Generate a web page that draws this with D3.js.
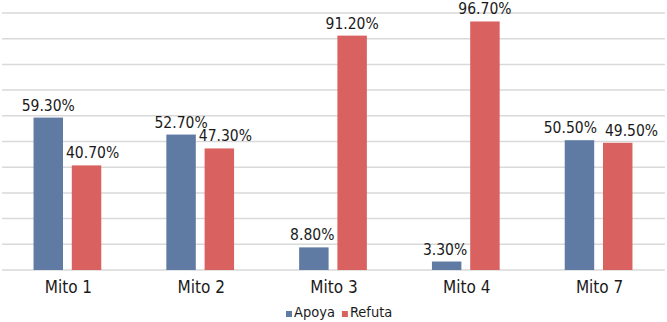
<!DOCTYPE html>
<html>
<head>
<meta charset="utf-8">
<script src="https://cdn.jsdelivr.net/npm/d3@7"></script>
<style>
  body { margin: 0; background: #fff; }
  text { font-family: "DejaVu Sans Condensed", "DejaVu Sans", Verdana, sans-serif; fill: #1a1a1a; }
</style>
</head>
<body>
<div id="chart"></div>
<script>
// data
const mitos = ["Mito 1", "Mito 2", "Mito 3", "Mito 4", "Mito 7"];
const series = ["Apoya", "Refuta"];
const apoya = [59.3, 52.7, 8.8, 3.3, 50.5];
const refuta = [40.7, 47.3, 91.2, 96.7, 49.5];
const colors = ["#5f7aa3", "#d9615f"];

const W = 667, H = 322;
const margin = {top: 13, right: 2, bottom: 52, left: 1};
const width = W - margin.left - margin.right,
    height = H - margin.top - margin.bottom;

const svg = d3.select("#chart")
  .append("svg")
    .attr("width", W)
    .attr("height", H)
  .append("g")
    .attr("transform", "translate(" + margin.left + "," + margin.top + ")");

const x = d3.scaleBand()
  .domain(mitos)
  .range([0, width])
  .paddingInner(0.49)
  .paddingOuter(0.245);

const xs = d3.scaleBand()
  .domain(series)
  .range([0, x.bandwidth()])
  .paddingInner(0.23);

const y = d3.scaleLinear()
  .domain([0, 100])
  .range([height, 0]);

// gridlines
svg.append("g")
  .selectAll("line")
  .data(y.ticks(10))
  .enter().append("line")
    .attr("x1", 1)
    .attr("x2", width)
    .attr("y1", d => y(d))
    .attr("y2", d => y(d))
    .attr("stroke", "#d9d9d9")
    .attr("stroke-width", 1.5);

const rows = [];
mitos.forEach((m, i) => {
  rows.push({mito: m, s: "Apoya", v: apoya[i], k: 0});
  rows.push({mito: m, s: "Refuta", v: refuta[i], k: 1});
});

svg.selectAll(".bar")
  .data(rows)
  .enter().append("rect")
    .attr("class", "bar")
    .attr("x", d => x(d.mito) + xs(d.s))
    .attr("y", d => y(d.v))
    .attr("width", xs.bandwidth())
    .attr("height", d => height - y(d.v))
    .attr("fill", d => colors[d.k]);

// value labels
const labels = svg.selectAll(".lbl")
  .data(rows)
  .enter().append("text")
    .attr("class", "lbl")
    .attr("text-anchor", "middle")
    .attr("x", d => x(d.mito) + xs(d.s) + xs.bandwidth() / 2)
    .attr("y", d => y(d.v) - 7)
    .style("font-size", "15.5px")
    .text(d => d.v.toFixed(2) + "%");

// nudge labels sideways so they don't sit on the neighbour bar or each other
labels.each(function(d) { d.w = this.getComputedTextLength(); d.cx = x(d.mito) + xs(d.s) + xs.bandwidth() / 2; d.by = y(d.v) - 7; });
mitos.forEach(m => {
  const pair = rows.filter(r => r.mito == m);
  const a = pair[0], b = pair[1];
  const aRight = x(m) + xs("Apoya") + xs.bandwidth();
  const bLeft = x(m) + xs("Refuta");
  if (Math.abs(a.by - b.by) < 12) {
    const overlap = (a.cx + a.w / 2) - (b.cx - b.w / 2) + 8;
    if (overlap > 0) { a.cx -= overlap * 0.4; b.cx += overlap * 0.6; }
  } else if (b.by > a.by && b.cx - b.w / 2 < aRight + 2) {
    b.cx = aRight + 3 + b.w / 2;
  } else if (a.by > b.by && a.cx + a.w / 2 > bLeft - 2) {
    a.cx = bLeft - 3 - a.w / 2;
  }
});
labels.attr("x", d => d.cx);

// category labels
svg.append("g")
  .selectAll("text")
  .data(mitos)
  .enter().append("text")
    .attr("text-anchor", "middle")
    .attr("x", d => x(d) + x.bandwidth() / 2 + 1)
    .attr("y", height + 23)
    .style("font-size", "17px")
    .text(d => d);

// legend
const legend = svg.append("g")
  .attr("transform", "translate(" + 285 + "," + (height + 47) + ")");
let lx = 0;
series.forEach((s, i) => {
  legend.append("rect")
    .attr("x", lx)
    .attr("y", -6)
    .attr("width", 6)
    .attr("height", 6)
    .attr("fill", colors[i]);
  const t = legend.append("text")
    .attr("x", lx + 8)
    .attr("y", 0)
    .style("font-size", "14.5px")
    .text(s);
  lx += 8 + t.node().getComputedTextLength() + 7;
});
</script>
</body>
</html>
